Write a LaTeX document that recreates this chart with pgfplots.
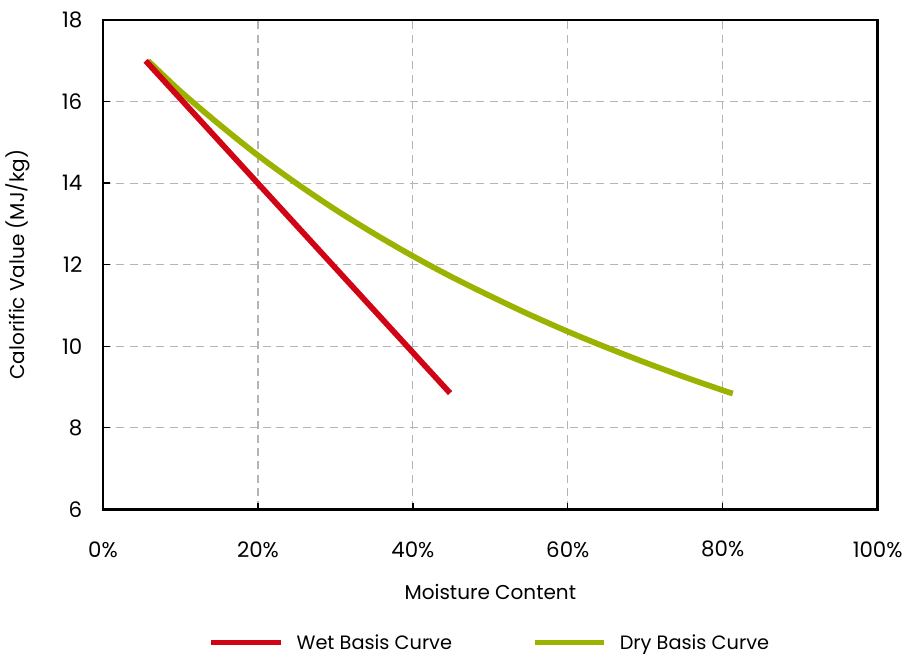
\documentclass[border=0pt]{standalone}
\usepackage{pgfplots}
\pgfplotsset{compat=1.18}
\usepackage{fontspec}
\setmainfont{Poppins}
\definecolor{wetred}{RGB}{208,4,20}
\definecolor{drygreen}{RGB}{156,178,0}
\definecolor{gridgray}{RGB}{180,180,180}
\begin{document}
\begin{tikzpicture}
\begin{axis}[
  scale only axis,
  width=581pt, height=367pt,
  xmin=0, xmax=100, ymin=6, ymax=18,
  xtick={0,20,40,60,80,100},
  ytick={6,8,10,12,14,16,18},
  xticklabel={\pgfmathprintnumber{\tick}\%},
  /pgf/number format/assume math mode=true,
  tick label style={font=\fontsize{16}{19}\selectfont},
  label style={font=\fontsize{15}{18}\selectfont},
  xticklabel style={anchor=center, yshift=-30pt},
  yticklabel style={anchor=east, xshift=-12pt},
  xlabel={Moisture Content},
  ylabel={Calorific Value (MJ/kg)},
  xlabel style={at={(0.5,0)}, anchor=center, yshift=-62pt},
  ylabel style={at={(-0.11,0.5)}, anchor=center},
  tick align=inside,
  major tick length=5pt,
  tick style={black, line width=1pt},
  xtick pos=bottom, ytick pos=left,
  axis line style={line width=1.8pt, black},
  grid=major,
  major grid style={gridgray, line width=0.9pt, dash pattern=on 6pt off 4pt},
  legend style={at={(0.5,0)}, yshift=-100pt, anchor=center, draw=none, legend columns=2,
    font=\fontsize{14.5}{17}\selectfont,
    /tikz/every odd column/.append style={column sep=8pt},
    /tikz/every even column/.append style={column sep=58pt}},
  legend image code/.code={\draw[#1, line width=3.8pt] (0pt,0pt) -- (52pt,0pt);},
]
\addlegendimage{wetred}
\addlegendentry{Wet Basis Curve}
\addlegendimage{drygreen}
\addlegendentry{Dry Basis Curve}
\addplot[drygreen, line width=4.3pt, smooth, forget plot] coordinates {
(5.82,17.0) (10,16.25) (15,15.44) (20,14.68) (25,13.99) (30,13.35) (35,12.76)
(40,12.21) (45,11.70) (50,11.23) (55,10.78) (60,10.36) (65,9.97) (70,9.60)
(75,9.25) (80,8.92) (81.3,8.84)};
\addplot[wetred, line width=4.3pt, forget plot] coordinates {(5.5,17) (44.8,8.85)};
\end{axis}
\path (-77.25pt,-108pt) rectangle (612.75pt,382pt);
\end{tikzpicture}
\end{document}
